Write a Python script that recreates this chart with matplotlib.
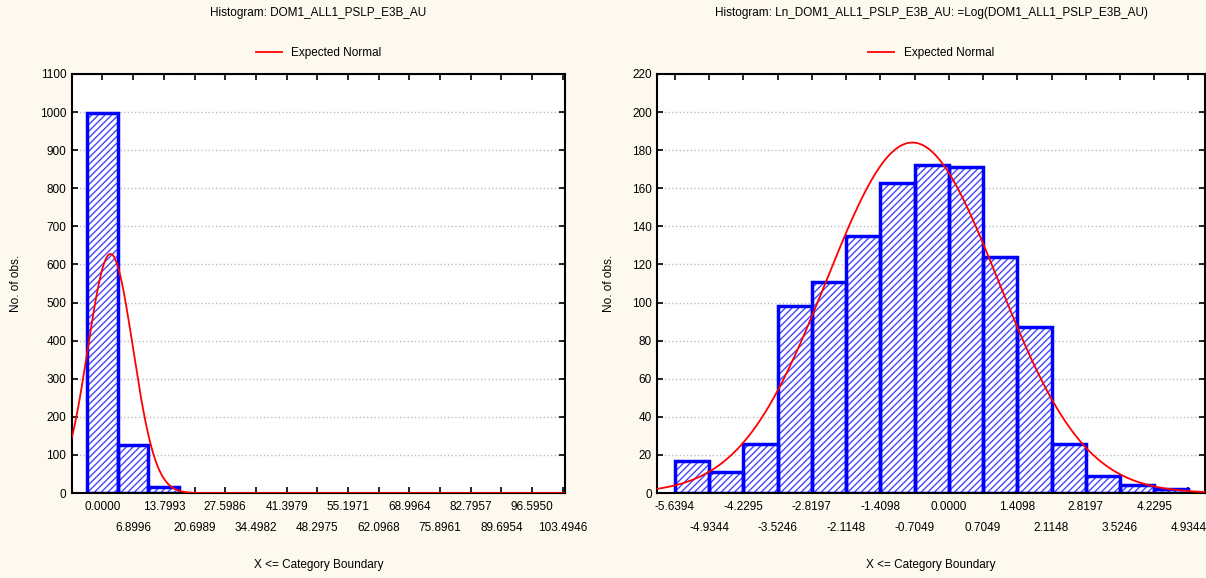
import numpy as np
import matplotlib
matplotlib.use("Agg")
from matplotlib import pyplot as plt

# left histogram: raw variable
left_title = "Histogram: DOM1_ALL1_PSLP_E3B_AU"
left_labels = ["0.0000", "6.8996", "13.7993", "20.6989", "27.5986", "34.4982",
               "41.3979", "48.2975", "55.1971", "62.0968", "68.9964", "75.8961",
               "82.7957", "89.6954", "96.5950", "103.4946"]
left_counts = [997, 127, 15]
left_mean = 1.8
left_sd = 5.07

# right histogram: log of the variable
right_title = "Histogram: Ln_DOM1_ALL1_PSLP_E3B_AU: =Log(DOM1_ALL1_PSLP_E3B_AU)"
right_labels = ["-5.6394", "-4.9344", "-4.2295", "-3.5246", "-2.8197", "-2.1148",
                "-1.4098", "-0.7049", "0.0000", "0.7049", "1.4098", "2.1148",
                "2.8197", "3.5246", "4.2295", "4.9344"]
right_counts = [17, 11, 26, 98, 111, 135, 163, 172, 171, 124, 87, 26, 9, 4, 2]
right_mean = -0.75
right_sd = 1.767

n_obs = 1156

plt.rcParams['font.family'] = ['Liberation Sans', 'DejaVu Sans']
plt.rcParams['hatch.linewidth'] = 1.0

BG = "#fdf9ef"
BLUE = "#0000ff"
FS = 8.5

fig = plt.figure(figsize=(12.06, 5.78), dpi=100, facecolor=BG)
ax1 = fig.add_axes([0.0595, 0.147, 0.409, 0.725])
ax2 = fig.add_axes([0.545, 0.147, 0.454, 0.725])


def normal_curve(x, mean, sd, width):
    return n_obs * width * np.exp(-0.5 * ((x - mean) / sd) ** 2) / (sd * np.sqrt(2 * np.pi))


def draw_bars(ax, pos, counts, width, align):
    # hatch layer, then the blue outline on top
    ax.bar(pos, counts, width=width, align=align, facecolor='white',
           edgecolor='#4646ff', linewidth=0, hatch='/////', zorder=2)
    ax.bar(pos, counts, width=width, align=align, facecolor='none',
           edgecolor=BLUE, linewidth=2.5, zorder=2.5)


def style_axes(ax, ymax, ystep, ticks, labels, ylabel_x):
    ax.set_ylim(0, ymax)
    ax.set_yticks(np.arange(0, ymax + 1, ystep))
    # two rows of labels: even ones on the major ticks, odd ones on minor ticks
    ax.set_xticks(ticks[0::2])
    ax.set_xticklabels(labels[0::2])
    ax.set_xticks(ticks[1::2], minor=True)
    ax.set_xticklabels(labels[1::2], minor=True)
    ax.tick_params(axis='both', which='both', direction='in', length=4, width=1.2,
                   labelsize=FS, top=True, right=True)
    ax.tick_params(axis='x', which='major', pad=6)
    ax.tick_params(axis='x', which='minor', pad=21)
    ax.tick_params(axis='y', pad=4)
    ax.grid(axis='y', color='#bdbdbd', linestyle=':', linewidth=1)
    ax.set_axisbelow(True)
    for s in ax.spines.values():
        s.set_linewidth(1.5)
    ax.set_ylabel("No. of obs.", fontsize=FS)
    ax.yaxis.set_label_coords(ylabel_x, 0.5)
    ax.set_xlabel("X <= Category Boundary", fontsize=FS)
    ax.xaxis.set_label_coords(0.5, -0.158)


# left panel
pos1 = np.array([float(l) for l in left_labels])
w1 = pos1[1] - pos1[0]
draw_bars(ax1, pos1[:len(left_counts)], left_counts, w1, 'center')
ax1.set_xlim(-w1, 104.0)
x1 = np.linspace(-w1, 104.0, 600)
line1, = ax1.plot(x1, normal_curve(x1, left_mean, left_sd, w1), color='red', lw=1.3, zorder=3)
style_axes(ax1, 1100, 100, pos1, left_labels, -0.1)
ax1.text(0.5, 1.145, left_title, transform=ax1.transAxes, ha='center', va='center', fontsize=FS)
ax1.legend([line1], ["Expected Normal"], loc='center', bbox_to_anchor=(0.5, 1.05),
           frameon=False, fontsize=FS, handlelength=2.2)

# right panel
pos2 = np.array([float(l) for l in right_labels])
w2 = pos2[1] - pos2[0]
draw_bars(ax2, pos2[:len(right_counts)], right_counts, w2, 'edge')
ax2.set_xlim(-6.0, 5.27)
x2 = np.linspace(-6.0, 5.27, 600)
line2, = ax2.plot(x2, normal_curve(x2, right_mean, right_sd, w2), color='red', lw=1.3, zorder=3)
style_axes(ax2, 220, 20, pos2, right_labels, -0.078)
ax2.text(0.5, 1.145, right_title, transform=ax2.transAxes, ha='center', va='center', fontsize=FS)
ax2.legend([line2], ["Expected Normal"], loc='center', bbox_to_anchor=(0.5, 1.05),
           frameon=False, fontsize=FS, handlelength=2.2)

fig.savefig("out.png", dpi=100, facecolor=BG)
